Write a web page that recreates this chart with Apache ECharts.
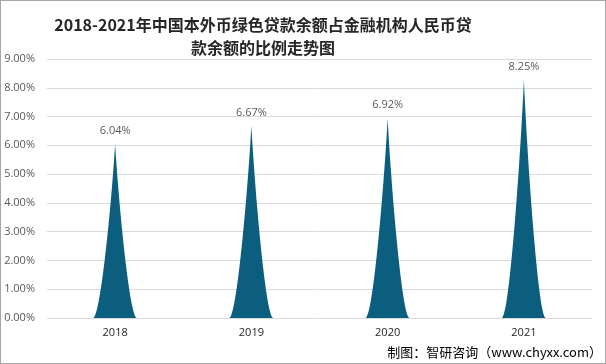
<!DOCTYPE html>
<html>
<head>
<meta charset="utf-8">
<script src="https://cdn.jsdelivr.net/npm/echarts@6/dist/echarts.min.js"></script>
<style>
html,body{margin:0;padding:0;background:#fff;}
#c{width:606px;height:364px;box-sizing:border-box;border:1px solid #a6a6a6;}
</style>
</head>
<body>
<div id="c"></div>
<script>
const categories = ['2018', '2019', '2020', '2021'];
const values = [6.04, 6.67, 6.92, 8.25];
const yTicks = { min: 0, max: 9, interval: 1 };
const titleLines = ['2018-2021年中国本外币绿色贷款余额占金融机构人民币贷', '款余额的比例走势图'];
const sourceText = '制图：智研咨询（';
const sourceUrl = 'www.chyxx.com';

const titleStyle = {
  fontFamily: '"Noto Sans CJK SC", sans-serif',
  fontWeight: 'bold',
  fontSize: 16,
  fill: '#262626',
  align: 'center',
  verticalAlign: 'middle'
};

const chart = echarts.init(document.getElementById('c'), null, {renderer: 'canvas'});
chart.setOption({
  animation: false,
  grid: { left: 46, right: 13, top: 58, bottom: 45, containLabel: false },
  xAxis: {
    type: 'category',
    data: categories,
    axisLine: { lineStyle: { color: '#d9d9d9' } },
    axisTick: { show: false },
    axisLabel: { color: '#262626', fontSize: 11, margin: 9, fontFamily: '"Open Sans", sans-serif' }
  },
  yAxis: {
    type: 'value',
    min: yTicks.min,
    max: yTicks.max,
    interval: yTicks.interval,
    axisLine: { show: false },
    axisTick: { show: false },
    splitLine: { lineStyle: { color: '#d9d9d9' } },
    axisLabel: {
      color: '#595959', fontSize: 11, margin: 12,
      fontFamily: '"Open Sans", sans-serif',
      formatter: v => v.toFixed(2) + '%'
    }
  },
  series: [{
    type: 'pictorialBar',
    data: values,
    symbol: 'path://M0,10 C1.6,10 4,4 5,0 C6,4 8.4,10 10,10 Z',
    symbolSize: [44, '100%'],
    barWidth: 44,
    itemStyle: { color: '#0b5e7d' },
    label: {
      show: true,
      position: 'top',
      distance: 8,
      color: '#595959',
      fontSize: 11,
      fontFamily: '"Open Sans", sans-serif',
      formatter: p => p.value.toFixed(2) + '%'
    }
  }],
  graphic: [
    { type: 'text', x: 262, y: 24, style: Object.assign({ text: titleLines[0] }, titleStyle) },
    { type: 'text', x: 262, y: 47, style: Object.assign({ text: titleLines[1] }, titleStyle) },
    {
      type: 'text',
      right: 3,
      top: 345,
      style: {
        text: '{a|' + sourceText + '}{b|' + sourceUrl + '}{a|）}',
        rich: {
          a: { fontSize: 13, color: '#262626', fontFamily: '"Noto Sans CJK SC", sans-serif' },
          b: { fontSize: 13, color: '#1f3864', fontFamily: '"Noto Sans CJK SC", sans-serif' }
        }
      }
    }
  ]
});
</script>
</body>
</html>
